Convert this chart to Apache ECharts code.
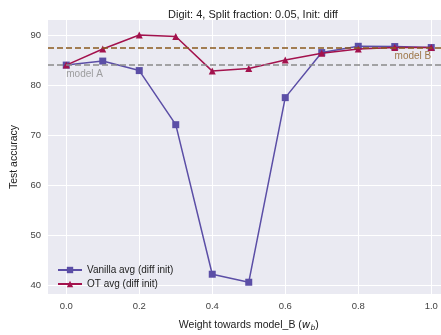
<!DOCTYPE html>
<html><head><meta charset="utf-8">
<script src="https://cdn.jsdelivr.net/npm/echarts@6/dist/echarts.min.js"></script>
<style>html,body{margin:0;padding:0;background:#fff}#c{width:441px;height:335px}</style>
</head><body><div id="c"></div>
<script>
const weights = [0.0, 0.1, 0.2, 0.3, 0.4, 0.5, 0.6, 0.7, 0.8, 0.9, 1.0];
const vanilla = [84.0, 84.8, 82.9, 72.1, 42.25, 40.65, 77.5, 86.5, 87.75, 87.7, 87.5];
const ot = [84.0, 87.2, 90.0, 89.7, 82.8, 83.3, 85.0, 86.35, 87.2, 87.5, 87.5];
const modelA = 84.0;
const modelB = 87.5;
const xTicks = [0.0, 0.2, 0.4, 0.6, 0.8, 1.0];
const yTicks = [40, 50, 60, 70, 80, 90];

const FONT = 'Liberation Sans';
const pairs = a => weights.map((w, i) => [w, a[i]]);
const chart = echarts.init(document.getElementById('c'), null, {renderer: 'canvas'});
const vGrid = xTicks.map(x => ({xAxis: x}));
chart.setOption({
  animation: false,
  backgroundColor: '#fff',
  textStyle: {fontFamily: FONT},
  title: {text: 'Digit: 4, Split fraction: 0.05, Init: diff', left: 248, textAlign: 'center', top: 4,
    textStyle: {fontFamily: FONT, fontSize: 11, fontWeight: 'normal', color: '#222'}},
  grid: {left: 48, top: 20, width: 401.5, height: 274, backgroundColor: '#EAEAF2', show: true, borderWidth: 0,
    outerBoundsMode: 'none', containLabel: false},
  xAxis: {type: 'value', min: -0.05, max: 1.05,
    axisLine: {show: false}, axisTick: {show: false},
    splitLine: {show: false},
    axisLabel: {customValues: xTicks, formatter: v => v.toFixed(1), color: '#444', fontSize: 9.5, margin: 7, fontFamily: FONT},
    name: '{n|Weight towards model_B (}{i|w}{s|b}{n|)}', nameLocation: 'middle', nameGap: 24,
    nameTextStyle: {rich: {
      n: {fontSize: 10.5, color: '#222', fontFamily: FONT},
      i: {fontSize: 10.5, color: '#222', fontStyle: 'italic', fontFamily: 'DejaVu Sans'},
      s: {fontSize: 7.5, color: '#222', fontStyle: 'italic', verticalAlign: 'bottom', padding: [6,0,0,0], fontFamily: 'DejaVu Sans'}
    }}
  },
  yAxis: {type: 'value', min: 38.3, max: 93,
    axisLine: {show: false}, axisTick: {show: false},
    splitLine: {show: false},
    axisLabel: {customValues: yTicks, color: '#444', fontSize: 9.5, margin: 7, fontFamily: FONT},
    name: 'Test accuracy', nameLocation: 'middle', nameGap: 25,
    nameTextStyle: {fontSize: 10.5, color: '#222', fontFamily: FONT}
  },
  legend: {orient: 'vertical', left: 52, top: 260, itemGap: 4, itemWidth: 24, itemHeight: 8,
    textStyle: {fontSize: 10, color: '#222', fontFamily: FONT},
    data: ['Vanilla avg (diff init)', 'OT avg (diff init)']},
  series: [
    {type: 'line', name: 'gridlines', data: [], silent: true, z: 0,
      markLine: {silent: true, symbol: 'none', label: {show: false}, z: 0,
        lineStyle: {color: '#fff', type: 'solid', width: 1},
        data: vGrid.concat(yTicks.map(y => ({yAxis: y})))}},
    {type: 'line', name: 'Vanilla avg (diff init)', data: pairs(vanilla), color: '#5B4EA6',
      symbol: 'rect', symbolSize: 7, lineStyle: {width: 1.5}, z: 3},
    {type: 'line', name: 'OT avg (diff init)', data: pairs(ot), color: '#A3124D',
      symbol: 'triangle', symbolSize: 7, lineStyle: {width: 1.5}, z: 4},
    {type: 'line', name: 'refs', data: [], silent: true, z: 5,
      markLine: {silent: true, symbol: 'none', label: {show: false}, z: 5,
        data: [
          {yAxis: modelA, lineStyle: {color: '#8a8a8a', type: [6, 3], width: 1.5}},
          {yAxis: modelB, lineStyle: {color: '#8B5A1E', type: [6, 3], width: 1.5}}
        ]}},
    {type: 'scatter', name: 'reflabels', silent: true, symbolSize: 0, z: 6,
      data: [
        {value: [0.0, modelA - 0.8], label: {formatter: 'model A', color: '#8a8a8a', align: 'left'}},
        {value: [1.0, modelB - 0.8], label: {formatter: 'model B', color: '#8B5A1E', align: 'right'}}
      ],
      label: {show: true, position: [0, 0], verticalAlign: 'top', fontSize: 10, fontFamily: FONT}}
  ]
});
</script></body></html>
